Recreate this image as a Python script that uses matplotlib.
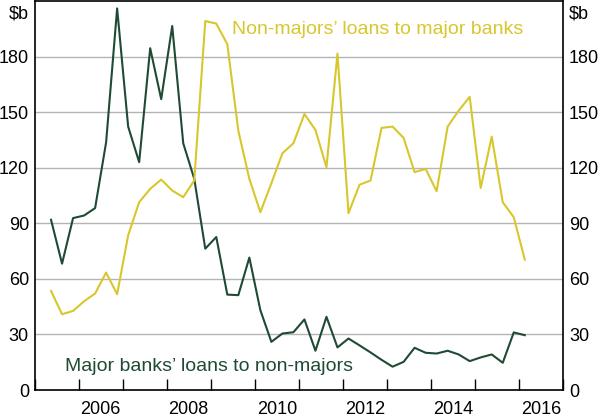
import numpy as np
import matplotlib
matplotlib.use("Agg")
import matplotlib.pyplot as plt
from matplotlib.ticker import MultipleLocator, FixedLocator

plt.rcParams['font.family'] = ['Liberation Sans', 'DejaVu Sans']

# quarterly data, $b
first_quarter = 2005.375
majors_to_nonmajors = [91.9, 68.2, 92.8, 94.2, 98.2, 133.7, 206, 142.2, 123, 184.5,
                       157, 196.5, 133.2, 114, 76.3, 82.6, 51.5, 51.2, 71.5, 43.1,
                       26, 30.5, 31.2, 38.1, 21.2, 39.5, 23, 27.8, 24.1, 20.3,
                       16.3, 12.6, 15.2, 22.8, 20.1, 19.7, 21.2, 19.2, 15.6, 17.6,
                       19.2, 14.7, 31.1, 29.6]
nonmajors_to_majors = [53.5, 40.9, 42.7, 47.9, 52.1, 63.4, 51.7, 83.5, 101.4, 108.6,
                       113.6, 107.7, 104.1, 113.1, 199.2, 197.8, 186.7, 140, 114, 96,
                       111.6, 127.8, 133.2, 149, 140.4, 120.3, 181.6, 95.5, 110.8, 113.1,
                       141.5, 142.2, 136.1, 117.6, 119.4, 107.3, 142.2, 150.8, 158.3, 109.1,
                       136.8, 101.4, 93.3, 70.4]
year_labels = [2006, 2008, 2010, 2012, 2014, 2016]
y_ticks = [0, 30, 60, 90, 120, 150, 180]

x = first_quarter + 0.25 * np.arange(len(majors_to_nonmajors))

green = '#1f4a34'
yellow = '#d8c72c'

fig = plt.figure(figsize=(6.0, 4.17), dpi=100)
ax = fig.add_axes([0.0575, 0.0647, 0.8814, 0.9329])

ax.plot(x, majors_to_nonmajors, color=green, lw=1.5)
ax.plot(x, nonmajors_to_majors, color=yellow, lw=1.5)

ax.set_xlim(2005, 2017)
ax.set_ylim(0, 210)

ax.set_yticks(y_ticks)
ax.yaxis.grid(True, color='#b4b4b4', lw=1)
ax.set_axisbelow(True)
ax.tick_params(axis='y', length=0, labelsize=13, pad=4, labelleft=True, labelright=True)

# year boundaries as ticks, labels at mid-year
ax.xaxis.set_major_locator(MultipleLocator(1))
ax.xaxis.set_minor_locator(FixedLocator([y + 0.5 for y in year_labels]))
ax.xaxis.set_major_formatter(plt.NullFormatter())
ax.set_xticklabels([str(y) for y in year_labels], minor=True)
ax.tick_params(axis='x', which='major', direction='in', length=8, width=1)
ax.tick_params(axis='x', which='minor', length=0, labelsize=13, pad=8)

for s in ax.spines.values():
    s.set_linewidth(1.2)

ax.annotate('$b', xy=(0, 1), xycoords='axes fraction', xytext=(-4, -3),
            textcoords='offset points', ha='right', va='top', fontsize=13)
ax.annotate('$b', xy=(1, 1), xycoords='axes fraction', xytext=(4, -3),
            textcoords='offset points', ha='left', va='top', fontsize=13)

ax.text(2009.48, 192, 'Non-majors\u2019 loans to major banks', color=yellow,
        fontsize=14, ha='left', va='baseline')
ax.text(2005.69, 10.4, 'Major banks\u2019 loans to non-majors', color=green,
        fontsize=14, ha='left', va='baseline')

fig.savefig('out.png', dpi=100)
